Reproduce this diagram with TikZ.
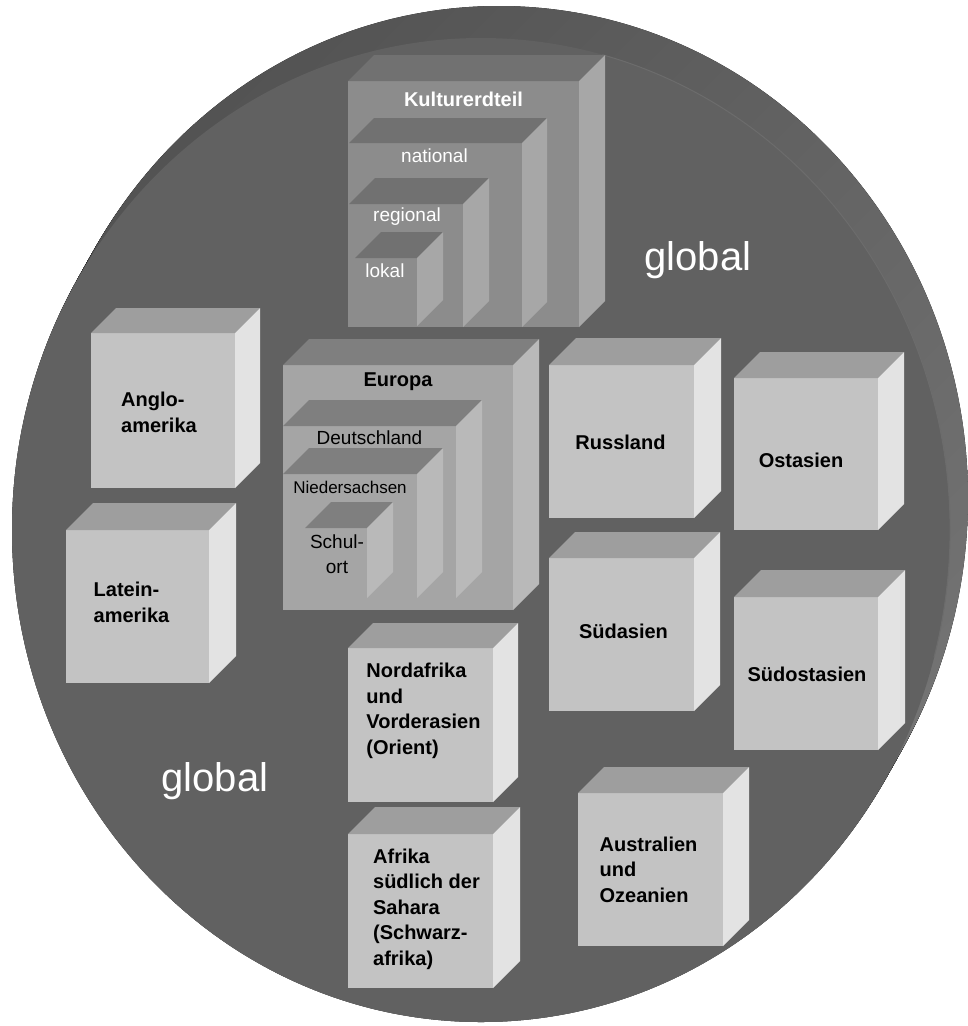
\documentclass[tikz,border=0pt]{standalone}
\usepackage{fontspec}
\setmainfont{Liberation Sans}
\usepackage{xcolor}
\usepackage{tikz}
\usetikzlibrary{positioning}

\definecolor{discface}{HTML}{616161}
\definecolor{discedge}{HTML}{6C6C6C}
\definecolor{rimdark}{HTML}{535353}
\definecolor{rimlight}{HTML}{747474}
\definecolor{cubefront}{HTML}{C3C3C3}
\definecolor{cubetop}{HTML}{9E9E9E}
\definecolor{cubeside}{HTML}{E3E3E3}
\definecolor{kultfront}{HTML}{8C8C8C}
\definecolor{kulttop}{HTML}{717171}
\definecolor{kultside}{HTML}{A7A7A7}
\definecolor{eurofront}{HTML}{A5A5A5}
\definecolor{eurotop}{HTML}{7F7F7F}
\definecolor{euroside}{HTML}{B9B9B9}

% box: name, x, y, width, height, depth, colour set
\newcommand{\regbox}[7]{%
  \node[front=#7front, minimum width=#4pt, minimum height=#5pt] (#1) at (#2,#3) {};
  \fill[#7top] (#1.north west) -- ++(#6,-#6) -- ([shift={(#6,-#6)}]#1.north east) -- (#1.north east) -- cycle;
  \fill[#7side] (#1.north east) -- ++(#6,-#6) -- ([shift={(#6,-#6)}]#1.south east) -- (#1.south east) -- cycle;
}

\begin{document}
\begin{tikzpicture}[
  x=1pt, y=-1pt,
  every node/.style={inner sep=0pt, outer sep=0pt},
  front/.style={anchor=north west, fill=#1},
  rim/.style={top color=rimdark, bottom color=rimlight, shading angle=45},
  boxlabel/.style={font=\bfseries\fontsize{20}{25.5}\selectfont, align=left},
  levellabel/.style={font=\fontsize{19}{25}\selectfont, align=center},
  worldlabel/.style={font=\fontsize{40}{48}\selectfont, text=white}
]
\useasboundingbox (0,0) rectangle (968,1026);

% Disc
\foreach \t in {0,0.05,...,1.001}
  \fill[rim] ([shift={(18*\t,-32*\t)}]481,530) ellipse [x radius=469, y radius=492];
\fill[discface] (481,530) ellipse [x radius=469, y radius=492];
\draw[discedge, line width=1pt] ([shift={(-75:469 and 492)}]481,530)
  arc [start angle=-75, end angle=15, x radius=469, y radius=492];

% Kulturerdteil stack
\regbox{kultur}{348}{81}{231}{246}{26}{kult}
\regbox{national}{349}{143}{173}{184}{25}{kult}
\regbox{regional}{349}{204}{114}{123}{26}{kult}
\regbox{lokal}{355}{258}{62}{68}{26}{kult}

% Europa stack
\regbox{europa}{283}{365}{230}{245}{26}{euro}
\regbox{deutschland}{283}{426}{173}{172}{26}{euro}
\regbox{niedersachsen}{283}{474}{134}{124}{26}{euro}
\regbox{schulort}{305}{528}{62}{70}{26}{euro}

% Kulturerdteile
\regbox{anglo}{91}{333}{144}{155}{25}{cube}
\regbox{latein}{66}{530}{143}{153}{27}{cube}
\regbox{russland}{549}{365}{145}{153}{27}{cube}
\regbox{ostasien}{734}{378}{144}{152}{26}{cube}
\regbox{suedasien}{549}{558}{145}{153}{26}{cube}
\regbox{suedostasien}{734}{597}{144}{153}{27}{cube}
\regbox{nordafrika}{348}{648}{145}{154}{25}{cube}
\regbox{afrika}{348}{834}{145}{154}{27}{cube}
\regbox{australien}{578}{793}{145}{153}{26}{cube}

% Labels
\node[levellabel, text=white, font=\bfseries\fontsize{20}{25}\selectfont] (kulturtext) at ([shift={(0,18)}]kultur.north) {Kulturerdteil};
\node[levellabel, text=white] (nationaltext) at ([shift={(-1,13)}]national.north) {national};
\node[levellabel, text=white] (regionaltext) at ([shift={(1,13)}]regional.north) {regional};
\node[levellabel, text=white] (lokaltext) at ([shift={(-1,13)}]lokal.north) {lokal};

\node[levellabel, font=\bfseries\fontsize{20}{25}\selectfont] (europatext) at ([shift={(0,17)}]europa.north) {Europa};
\node[levellabel] (deutschlandtext) at ([shift={(0,12)}]deutschland.north) {Deutschland};
\node[levellabel, font=\fontsize{17}{22}\selectfont] (niedersachsentext) at ([shift={(0,13)}]niedersachsen.north) {Niedersachsen};
\node[levellabel] (schulorttext) at ([shift={(1,-9)}]schulort.center) {Schul-\\ort};

\node[boxlabel] (anglotext) at ([shift={(-4,2)}]anglo.center) {Anglo-\\amerika};
\node[boxlabel] (lateintext) at ([shift={(-6,-4)}]latein.center) {Latein-\\amerika};
\node[boxlabel] (russlandtext) at ([shift={(-1,1)}]russland.center) {Russland};
\node[boxlabel] (ostasientext) at ([shift={(-5,6)}]ostasien.center) {Ostasien};
\node[boxlabel] (suedasientext) at ([shift={(2,-3)}]suedasien.center) {Südasien};
\node[boxlabel] (suedostasientext) at ([shift={(1,1)}]suedostasien.center) {Südostasien};
\node[boxlabel] (nordafrikatext) at ([shift={(3,-14)}]nordafrika.center) {Nordafrika\\und\\Vorderasien\\(Orient)};
\node[boxlabel] (afrikatext) at ([shift={(6,-2)}]afrika.center) {Afrika\\südlich der\\Sahara\\(Schwarz-\\afrika)};
\node[boxlabel] (australientext) at ([shift={(-2,0)}]australien.center) {Australien\\und\\Ozeanien};

\node[worldlabel] (globaltop) at (698,260) {global};
\node[worldlabel] (globalbottom) at (215,781) {global};

\end{tikzpicture}
\end{document}
